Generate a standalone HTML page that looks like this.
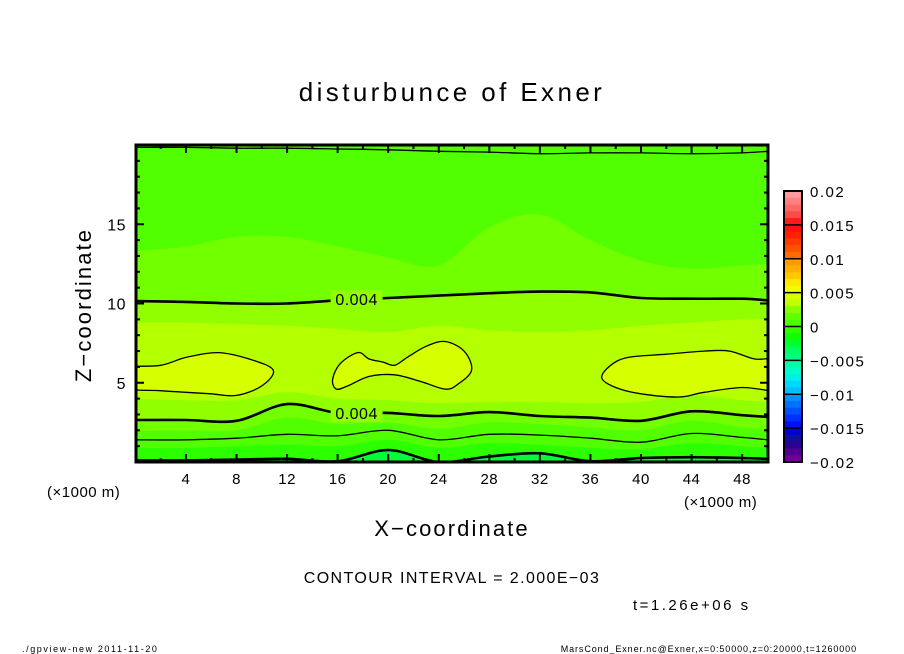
<!DOCTYPE html>
<html><head><meta charset="utf-8"><style>
body{margin:0;background:#fff;}
svg{display:block;font-family:"Liberation Sans",sans-serif;}
</style></head><body>
<svg id="chart" width="904" height="654" viewBox="0 0 904 654" xmlns="http://www.w3.org/2000/svg">
<text x="452" y="101" font-size="26" text-anchor="middle" letter-spacing="3.4">disturbunce of Exner</text>
<clipPath id="clip"><rect x="136" y="145" width="632" height="317"/></clipPath>
<g id="fills" clip-path="url(#clip)"></g>
<g id="lines" clip-path="url(#clip)"></g>
<g id="labels"></g>
<rect x="136" y="145" width="632" height="317" fill="none" stroke="#000" stroke-width="3"/>
<g id="axes"></g>
<text transform="translate(91,305) rotate(-90)" font-size="22" text-anchor="middle" letter-spacing="2.1">Z−coordinate</text>
<text x="47" y="497" font-size="15" letter-spacing="0.5">(×1000 m)</text>
<text x="684" y="507" font-size="15" letter-spacing="0.5">(×1000 m)</text>
<text x="452" y="536" font-size="22" text-anchor="middle" letter-spacing="2.1">X−coordinate</text>
<text x="452" y="583" font-size="16" text-anchor="middle" letter-spacing="1.4">CONTOUR INTERVAL = 2.000E−03</text>
<text x="633" y="610" font-size="15" letter-spacing="2.5">t=1.26e+06 s</text>
<text x="22" y="652" font-size="9" letter-spacing="1.6">./gpview-new   2011-11-20</text>
<text x="857" y="652" font-size="9" text-anchor="end" letter-spacing="0.9">MarsCond_Exner.nc@Exner,x=0:50000,z=0:20000,t=1260000</text>
<g id="cbar"></g>
</svg>
<script>
const NS="http://www.w3.org/2000/svg";
const xs=[0,4,8,12,16,20,24,28,32,36,40,44,48,50];
const U3=[13.3,13.6,14.2,14.2,13.6,12.9,12.4,14.8,15.6,14.0,12.7,12.2,12.4,12.5];
const U4=[10.15,10.1,10.0,10.0,10.2,10.35,10.5,10.65,10.75,10.7,10.35,10.3,10.3,10.2];
const U5=[8.8,8.8,8.7,8.6,8.4,8.2,8.6,8.3,8.2,8.3,8.6,8.8,9.0,9.0];
const L5=[4.0,3.9,3.9,4.4,4.0,3.9,3.7,3.8,3.8,3.7,3.8,4.2,3.9,3.8];
const L4=[2.65,2.65,2.6,3.65,3.1,3.1,2.9,3.15,2.9,2.8,2.6,3.2,2.95,2.85];
const L3=[1.95,2.0,2.0,2.8,2.4,2.5,2.1,2.5,2.4,2.2,2.0,2.6,2.2,2.1];
const L2=[1.4,1.4,1.5,1.75,1.65,2.0,1.4,1.75,1.7,1.5,1.25,1.8,1.55,1.4];
const L1=[0.9,0.9,1.0,1.1,1.0,1.4,0.9,1.2,1.1,0.9,0.8,1.2,1.0,0.9];
const L0=[0.1,0.1,0.15,0.2,0.05,0.75,0.0,0.35,0.55,0.05,0.25,0.3,0.25,0.2];
const T2=[19.85,19.85,19.8,19.8,19.75,19.7,19.6,19.55,19.45,19.5,19.5,19.45,19.5,19.6];
const blob1X=[-1,2,4,6.5,9,10.9,10,8,6,4,2,-1];
const blob1Z=[5.9,6.1,6.6,6.9,6.5,5.8,4.8,4.2,4.3,4.4,4.5,4.7];
const blob2X=[15.6,16.2,17.6,18.5,19.6,20.5,21.5,23,24.5,26,26.6,25.5,24.5,22.5,20.5,18.5,16.8,15.9];
const blob2Z=[5.2,6.2,6.9,6.5,6.3,6.1,6.6,7.3,7.6,7.0,5.8,4.9,4.6,5.1,5.5,5.4,4.8,4.6];
const blob3X=[36.9,37.6,39,42,45,47,49,51,51,48,45,43,40,38];
const blob3Z=[5.3,6.1,6.6,6.8,7.0,7.0,6.5,6.4,4.6,4.7,4.4,4.1,4.3,4.7];
const xTicks=[4,8,12,16,20,24,28,32,36,40,44,48];
const yTicks=[5,10,15];
const cbLabels=["0.02","0.015","0.01","0.005","0","−0.005","−0.01","−0.015","−0.02"];
const cbColors=["#ff9aa0","#ff8080","#ff6868","#ff4a4a","#ff3030","#ff1a1a","#ff1010","#ff2000","#ff3a00","#ff5000",
"#ff6a00","#ff8000","#ff9a00","#ffb000","#ffc800","#ffe800","#f0ff00","#d8ff00","#c0ff00","#a8ff00",
"#88ff00","#60ff00","#48ff00","#30ff00","#10ff00","#00ff30","#00ff48","#00ff60","#00ff80","#00ffa0",
"#00ffc8","#00f0e8","#00d8ff","#00c0ff","#00a8ff","#0090ff","#0070ff","#0050ff","#0030ff","#0010f0",
"#0000d8","#0000b8","#10109a","#300090","#500090","#700098"];
const X=v=>135.4+v*12.64, Z=v=>462-v*15.85;
function el(t,a,p){const e=document.createElementNS(NS,t);for(const k in a)e.setAttribute(k,a[k]);p.appendChild(e);return e;}
const fills=document.getElementById('fills'),lines=document.getElementById('lines');
function smooth(pts,closed){
  const n=pts.length;let d='M'+pts[0][0].toFixed(1)+' '+pts[0][1].toFixed(1);
  const g=i=>closed?pts[(i+n)%n]:pts[Math.max(0,Math.min(n-1,i))];
  const m=closed?n:n-1;
  for(let i=0;i<m;i++){const p0=g(i-1),p1=g(i),p2=g(i+1),p3=g(i+2);
    const c1=[p1[0]+(p2[0]-p0[0])/6,p1[1]+(p2[1]-p0[1])/6],c2=[p2[0]-(p3[0]-p1[0])/6,p2[1]-(p3[1]-p1[1])/6];
    d+=' C'+c1[0].toFixed(1)+' '+c1[1].toFixed(1)+' '+c2[0].toFixed(1)+' '+c2[1].toFixed(1)+' '+p2[0].toFixed(1)+' '+p2[1].toFixed(1);}
  return closed?d+' Z':d;}
function lineD(arr){return smooth(arr.map((z,i)=>[X(xs[i]),Z(z)]),false);}
function below(arr,color,name){const e=el('path',{d:lineD(arr)+' L'+X(51)+' '+Z(-1)+' L'+X(-1)+' '+Z(-1)+' Z',fill:color},fills);

}
el('rect',{x:130,y:140,width:650,height:330,fill:'#52ff00'},fills);
below(U3,'#72ff00','band-003-004-upper');
below(U4,'#92ff00','band-004-005-upper');
below(U5,'#b4ff00','band-005-006');
below(L5,'#92ff00','band-004-005-lower');
below(L4,'#72ff00','band-003-004-lower');
below(L3,'#52ff00','band-002-003-lower');
below(L1,'#2cff00','band-001-002-lower');
below(L0,'#00ff38','band-negative');
function blob(bx,bz,name){const d=smooth(bx.map((x,i)=>[X(x),Z(bz[i])]),true);
const f=el('path',{d:d,fill:'#d6ff00'},fills);


const l=el('path',{d:d,fill:'none',stroke:'#000','stroke-width':1.3},lines);

}
blob(blob1X,blob1Z,'blob-left');blob(blob2X,blob2Z,'blob-center');blob(blob3X,blob3Z,'blob-right');
function cline(arr,w,name){const e=el('path',{d:lineD(arr),fill:'none',stroke:'#000','stroke-width':w},lines);

}
cline(U4,2.6,'contour-0.004-upper');cline(L4,2.6,'contour-0.004-lower');
cline(L2,1.3,'contour-0.002-lower');cline(L0,2.6,'contour-0.000');cline(T2,1.3,'contour-0.002-top');
const labs=document.getElementById('labels');
function clabel(xv,arr,name){let i=xs.findIndex(v=>v>=xv);const z=(arr[i]+arr[i-1])/2;
el('rect',{x:X(xv)-26,y:Z(z)-9,width:52,height:18,fill:'#92ff00'},labs);
const t=el('text',{x:X(xv),y:Z(z)+6,'font-size':16,'text-anchor':'middle','letter-spacing':0.5},labs);t.textContent='0.004';

}
clabel(17.5,U4,'contour-label-upper');clabel(17.5,L4,'contour-label-lower');
const ax=document.getElementById('axes');
for(let v=2;v<50;v+=2){const maj=v%4===0,len=maj?8:4;
el('line',{x1:X(v),y1:462,x2:X(v),y2:462-len,stroke:'#000','stroke-width':2},ax);
el('line',{x1:X(v),y1:145,x2:X(v),y2:145+len,stroke:'#000','stroke-width':2},ax);}
for(let v=1;v<20;v++){const maj=v%5===0,len=maj?8:4;
el('line',{x1:136,y1:Z(v),x2:136+len,y2:Z(v),stroke:'#000','stroke-width':2},ax);
el('line',{x1:768,y1:Z(v),x2:768-len,y2:Z(v),stroke:'#000','stroke-width':2},ax);}
xTicks.forEach(v=>{const t=el('text',{x:X(v),y:484,'font-size':15,'text-anchor':'middle','letter-spacing':0.5},ax);t.textContent=v;

});
yTicks.forEach(v=>{const t=el('text',{x:126,y:Z(v)+6,'font-size':16,'text-anchor':'end','letter-spacing':0.5},ax);t.textContent=v;

});
const cb=document.getElementById('cbar');const nBands=40,cbTop=191,cbBot=462,bandH=(cbBot-cbTop)/nBands;
for(let i=0;i<nBands;i++){const c=cbColors[Math.round(i*(cbColors.length-1)/(nBands-1))];
const r=el('rect',{x:784,y:cbTop+i*bandH,width:18,height:bandH+0.5,fill:c},cb);

}
for(let k=1;k<8;k++)el('line',{x1:784,y1:cbTop+k*5*bandH,x2:802,y2:cbTop+k*5*bandH,stroke:'#000','stroke-width':1.5},cb);
el('rect',{x:784,y:cbTop,width:18,height:cbBot-cbTop,fill:'none',stroke:'#000','stroke-width':2},cb);
cbLabels.forEach((s,k)=>{const t=el('text',{x:810,y:cbTop+k*5*bandH+6,'font-size':15,'letter-spacing':1.5},cb);t.textContent=s;

});
</script>
</body></html>
